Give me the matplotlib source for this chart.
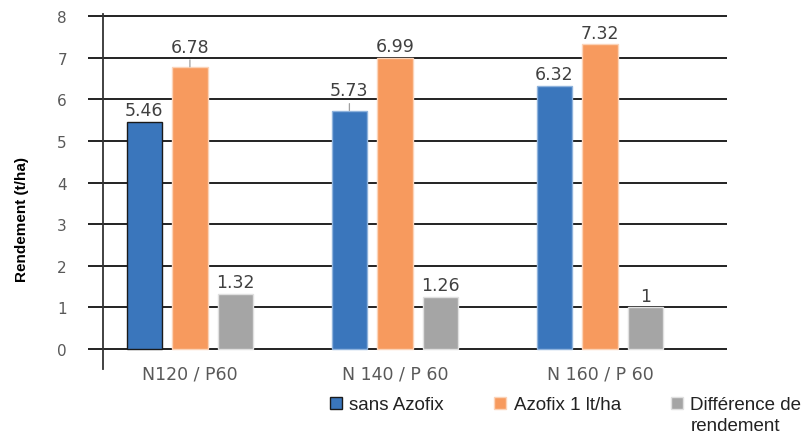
import matplotlib
matplotlib.use("Agg")
import matplotlib.pyplot as plt
import numpy as np

categories = ["N120 / P60", "N 140 / P 60", "N 160 / P 60"]
sans_azofix = [5.46, 5.73, 6.32]
azofix = [6.78, 6.99, 7.32]
difference = [1.32, 1.26, 1.0]
series_names = ["sans Azofix", "Azofix 1 lt/ha", "Différence de"]
series_name_extra = "rendement"
value_labels = [["5.46", "5.73", "6.32"], ["6.78", "6.99", "7.32"], ["1.32", "1.26", "1"]]
yticks = [0, 1, 2, 3, 4, 5, 6, 7, 8]

colors = ["#3A76BC", "#F79A5E", "#A5A5A5"]
edges = [["#1a1a1a", "#8fb3dc", "#8fb3dc"], ["#fbd3b8"] * 3, ["#e0e0e0"] * 3]
leader = {(0, 1), (1, 0)}

fig = plt.figure(figsize=(8.02, 4.35), dpi=100)
ax = fig.add_axes([103 / 802, 1 - 370 / 435, (727 - 103) / 802, (370 - 15) / 435])

x = np.arange(len(categories))
width = 0.172
offs = [-0.222, 0, 0.222]
data = [sans_azofix, azofix, difference]
handles = []
for s in range(3):
    bars = ax.bar(x + offs[s], data[s], width, color=colors[s],
                  edgecolor=edges[s], linewidth=1.0, zorder=3)
    handles.append(bars)
    for i, b in enumerate(bars):
        cx = b.get_x() + b.get_width() / 2
        top = b.get_height()
        if (s, i) in leader:
            ax.annotate(value_labels[s][i], xy=(cx, top), xytext=(0, 8),
                        textcoords="offset points", ha="center", va="bottom",
                        fontsize=12.5, color="#404040", family="DejaVu Sans",
                        arrowprops=dict(arrowstyle="-", color="#a0a0a0", lw=0.9,
                                        shrinkA=1, shrinkB=0))
        else:
            ax.annotate(value_labels[s][i], xy=(cx, top), xytext=(0, 2),
                        textcoords="offset points", ha="center", va="bottom",
                        fontsize=12.5, color="#404040", family="DejaVu Sans")

ax.set_xlim(-0.424, 2.62)
ax.set_ylim(-0.48, 8.05)
ax.set_yticks(yticks)
ax.set_yticklabels([str(t) for t in yticks], fontsize=11, color="#595959",
                   family="DejaVu Sans")
ax.yaxis.grid(True, color="#222222", linewidth=1.4, zorder=0)
ax.set_axisbelow(True)
ax.tick_params(axis="y", length=11, width=1.4, color="#222222", pad=15)
ax.set_xticks(x)
ax.set_xticklabels(categories, fontsize=12.5, color="#595959", family="DejaVu Sans")
ax.tick_params(axis="x", length=0, pad=-3)
for sp in ["top", "right", "bottom"]:
    ax.spines[sp].set_visible(False)
ax.spines["left"].set_color("#333333")
ax.spines["left"].set_linewidth(1.3)

fig.text(22 / 802, 1 - 220 / 435, "Rendement (t/ha)", rotation=90, ha="center",
         va="center", fontsize=11, fontweight="bold", family="Liberation Sans")

leg = fig.legend(handles=handles, labels=series_names, loc="center left",
                 bbox_to_anchor=(330 / 802, 1 - 406 / 435), ncol=3, frameon=False,
                 prop={"family": "Liberation Sans", "size": 13.5},
                 handlelength=0.64, handleheight=0.64, handletextpad=0.38,
                 columnspacing=2.7, borderpad=0, borderaxespad=0)
for t in leg.get_texts():
    t.set_color("#222222")

fig.canvas.draw()
bb = leg.get_texts()[2].get_window_extent()
fig.text(bb.x0 / 802, (435 - 427) / 435, series_name_extra, ha="left", va="center",
         fontsize=13.5, family="Liberation Sans", color="#222222")

fig.savefig("out.png", dpi=100)
